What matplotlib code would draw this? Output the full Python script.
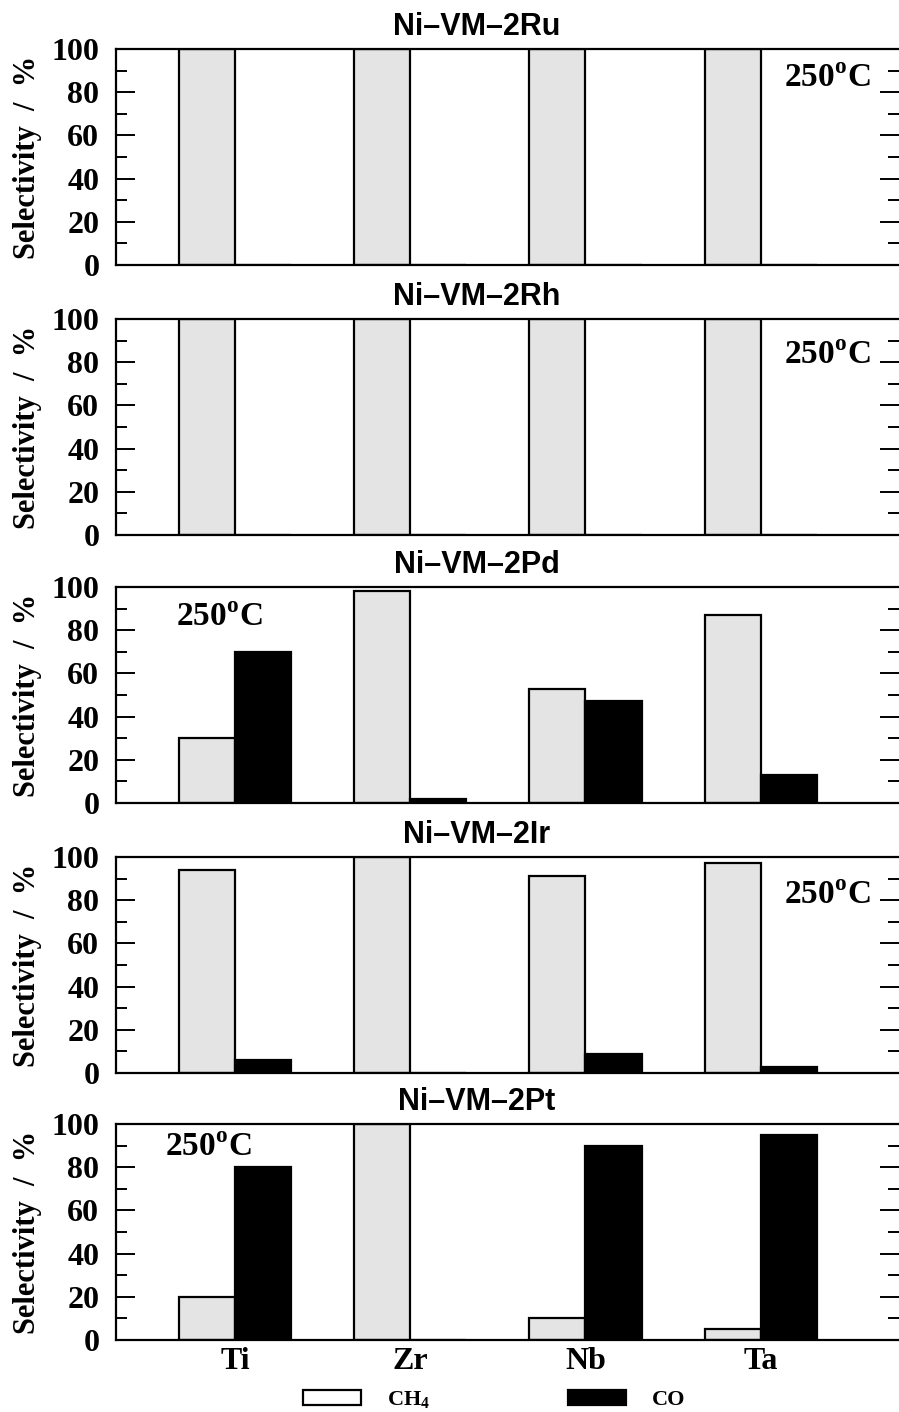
import matplotlib
matplotlib.use('Agg')
import matplotlib.pyplot as plt
from matplotlib.patches import Patch
from matplotlib.ticker import MultipleLocator

plt.rcParams['font.family'] = ['Liberation Serif', 'DejaVu Serif']
plt.rcParams['font.weight'] = 'bold'
plt.rcParams['axes.labelweight'] = 'bold'
plt.rcParams['mathtext.fontset'] = 'custom'
plt.rcParams['mathtext.rm'] = 'Liberation Serif:bold'
plt.rcParams['mathtext.bf'] = 'Liberation Serif:bold'

metals = ['Ti', 'Zr', 'Nb', 'Ta']
catalysts = ['Ni–VM–2Ru', 'Ni–VM–2Rh', 'Ni–VM–2Pd', 'Ni–VM–2Ir', 'Ni–VM–2Pt']

ch4 = [
    [100, 100, 100, 100],
    [100, 100, 100, 100],
    [30, 98, 53, 87],
    [94, 100, 91, 97],
    [20, 100, 10, 5],
]
co = [
    [0, 0, 0, 0],
    [0, 0, 0, 0],
    [70, 2, 47, 13],
    [6, 0, 9, 3],
    [80, 0, 90, 95],
]

# where the "250°C" note sits in each panel (data x, axes-fraction y, align)
notes = [(3.63, 0.865, 'right'), (3.63, 0.83, 'right'), (-0.34, 0.86, 'left'),
         (3.63, 0.82, 'right'), (-0.40, 0.89, 'left')]

fig = plt.figure(figsize=(8.99, 14.12), dpi=100)

tops = [49, 319, 587, 857, 1124]
H = 1412.0
x = list(range(len(metals)))
w = 0.32

for i, name in enumerate(catalysts):
    top = tops[i]
    ax = fig.add_axes([116 / 899, 1 - (top + 216) / H, 1 - 116 / 899, 216 / H])
    ax.bar([p - w / 2 for p in x], ch4[i], w, color='#e4e4e4', edgecolor='black', linewidth=1.6)
    ax.bar([p + w / 2 for p in x], co[i], w, color='black', edgecolor='black', linewidth=1.6)
    ax.set_xlim(-0.68, 3.79)
    ax.set_ylim(0, 100)
    ax.yaxis.set_major_locator(MultipleLocator(20))
    ax.yaxis.set_minor_locator(MultipleLocator(10))
    ax.tick_params(axis='y', which='major', direction='in', length=14, width=1.4,
                   left=True, right=True, labelsize=23, pad=12)
    ax.tick_params(axis='y', which='minor', direction='in', length=8, width=1.4,
                   left=True, right=True)
    ax.spines['right'].set_visible(False)
    for s in ['left', 'top', 'bottom']:
        ax.spines[s].set_linewidth(1.6)
    ax.set_xticks(x)
    if i == len(catalysts) - 1:
        ax.set_xticklabels(metals, fontsize=23)
        ax.tick_params(axis='x', length=0, pad=5)
    else:
        ax.tick_params(axis='x', length=0, labelbottom=False)
    ax.set_ylabel('Selectivity  /  %', fontsize=22)
    ax.yaxis.set_label_coords(-0.094, 0.5)
    ax.text(1.38, 1.10, name, transform=ax.get_xaxis_transform(), ha='center', va='center',
            fontsize=22, fontweight='bold', family='Liberation Sans')
    nx, ny, ha = notes[i]
    ax.text(nx, ny, r'250$^{\mathrm{o}}$C', transform=ax.get_xaxis_transform(),
            ha=ha, va='center', fontsize=24)

handles = [Patch(facecolor='white', edgecolor='black', linewidth=1.6),
           Patch(facecolor='black', edgecolor='black', linewidth=1.6)]
fig.legend(handles, ['CH$_\\mathbf{4}$', 'CO'], loc='center', bbox_to_anchor=(0.55, 0.0085),
           ncol=2, frameon=False, fontsize=16, handlelength=2.6, handleheight=0.68,
           handletextpad=1.17, columnspacing=6.2)

plt.savefig('out.png', dpi=100)
